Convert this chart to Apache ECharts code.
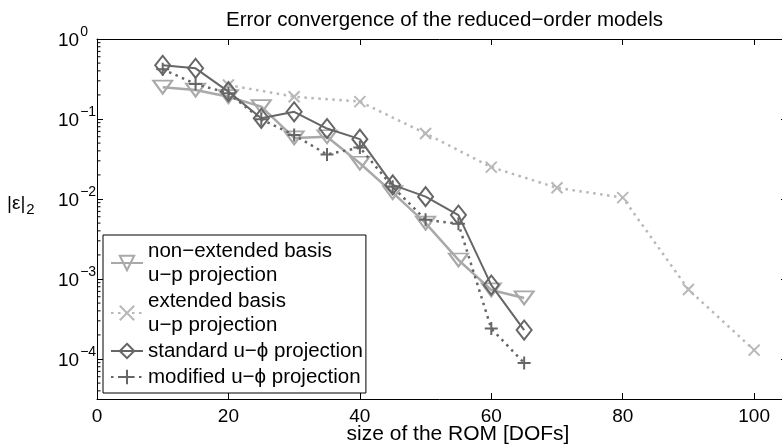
<!DOCTYPE html>
<html>
<head>
<meta charset="utf-8">
<script src="https://cdn.jsdelivr.net/npm/echarts@6/dist/echarts.min.js"></script>
<style>
  html, body { margin: 0; padding: 0; background: #fff; }
  #chart { width: 782px; height: 448px; }
</style>
</head>
<body>
<div id="chart"></div>
<script>
// ROM sizes (DOFs) and relative L2 errors of each reduced-order model
const romSizes = [10, 15, 20, 25, 30, 35, 40, 45, 50, 55, 60, 65];
const nonExtendedUp = [0.25, 0.23, 0.19, 0.143, 0.058, 0.06, 0.028, 0.012, 0.005, 0.00173, 0.00073, 0.00058];
const standardUPhi = [0.47, 0.43, 0.22, 0.102, 0.123, 0.076, 0.056, 0.015, 0.0107, 0.0063, 0.00084, 0.00023];
const modifiedUPhi = [0.42, 0.274, 0.21, 0.099, 0.063, 0.036, 0.044, 0.0142, 0.0055, 0.0049, 0.00024, 0.000089];
const extendedSizes = [20, 30, 40, 50, 60, 70, 80, 90, 100];
const extendedUp = [0.266, 0.19, 0.165, 0.066, 0.025, 0.0138, 0.0104, 0.00074, 0.000129];

const seriesNames = [
  'non\u2212extended basis\nu\u2212p projection',
  'extended basis\nu\u2212p projection',
  'standard u\u2212\u03d5 projection',
  'modified u\u2212\u03d5 projection'
];

const xMin = 0, xMax = 105, xStep = 20;
const yMin = Math.pow(10, -4.5), yMax = 1;

const FONT = '"Liberation Sans", Arial, Helvetica, sans-serif';
const LIGHT = '#a9a9a9';
const LIGHTER = '#b8b8b8';
const DARK = '#666666';

// minor log ticks at 2..9 x 10^k inside the axis range
const minorTicks = [];
for (let e = -5; e < 0; e++) {
  for (let m = 2; m <= 9; m++) {
    const v = m * Math.pow(10, e);
    if (v > yMin && v < yMax) minorTicks.push([0, v]);
  }
}

const pair = (xs, ys) => xs.map((x, i) => [x, ys[i]]);

const chart = echarts.init(document.getElementById('chart'), null, { renderer: 'canvas' });

const axisLine = { show: true, onZero: false, lineStyle: { color: '#000', width: 1 } };
const tickIn = { show: true, inside: true, length: 6, lineStyle: { color: '#000', width: 1 } };

chart.setOption({
  animation: false,
  backgroundColor: '#fff',
  textStyle: { fontFamily: FONT },
  title: {
    text: 'Error convergence of the reduced\u2212order models',
    left: 221,
    top: 5,
    textStyle: { fontFamily: FONT, fontWeight: 'normal', fontSize: 20.5, color: '#000' }
  },
  grid: { left: 97, top: 39, width: 690, height: 360, containLabel: false, outerBoundsMode: 'none' },
  xAxis: [
    {
      type: 'value', min: xMin, max: xMax, interval: xStep, position: 'bottom',
      axisLine, axisTick: tickIn, splitLine: { show: false },
      axisLabel: {
        margin: 8, fontSize: 19, color: '#000', fontFamily: FONT,
        formatter: v => (v % xStep === 0 ? String(v) : '')
      },
      name: 'size of the ROM [DOFs]', nameLocation: 'middle', nameGap: 25, nameMoveOverlap: false,
      nameTextStyle: { fontSize: 21, color: '#000', fontFamily: FONT, padding: [0, 0, 0, 32] }
    },
    {
      type: 'value', min: xMin, max: xMax, interval: xStep, position: 'top',
      axisLine, axisTick: tickIn, axisLabel: { show: false }, splitLine: { show: false }
    }
  ],
  yAxis: [
    {
      type: 'log', logBase: 10, min: yMin, max: yMax, position: 'left',
      axisLine, axisTick: tickIn, splitLine: { show: false }, minorTick: { show: false },
      axisLabel: {
        margin: 39, align: 'left', color: '#000', fontFamily: FONT,
        formatter: v => {
          const l = Math.log10(v);
          const e = Math.round(l);
          if (Math.abs(l - e) > 1e-6) return '';
          return '{b|10}{s|' + (e < 0 ? '\u2212' + (-e) : String(e)) + '}';
        },
        rich: {
          b: { fontSize: 19, color: '#000', fontFamily: FONT, padding: [4, 0, 0, 0] },
          s: { fontSize: 14, color: '#000', fontFamily: FONT, padding: [0, 0, 14, 1] }
        }
      }
    },
    {
      type: 'log', logBase: 10, min: yMin, max: yMax, position: 'right',
      axisLine, axisTick: tickIn, axisLabel: { show: false }, splitLine: { show: false }
    }
  ],
  legend: {
    orient: 'vertical', left: 103, top: 235,
    data: seriesNames,
    itemWidth: 32, itemHeight: 18, itemGap: 2,
    padding: [4, 3, 4, 7],
    borderColor: '#000', borderWidth: 1, backgroundColor: '#fff',
    textStyle: { fontSize: 20.5, lineHeight: 24, color: '#000', fontFamily: FONT },
    selectedMode: false
  },
  graphic: [
    {
      type: 'text', left: 7, top: 194, silent: true,
      style: {
        text: '{a||\u03b5|}{b|2}',
        rich: {
          a: { fontSize: 19, fontFamily: FONT, fill: '#000' },
          b: { fontSize: 15, fontFamily: FONT, fill: '#000', padding: [12, 0, 0, 1] }
        }
      }
    }
  ],
  series: [
    {
      name: seriesNames[0], type: 'line', data: pair(romSizes, nonExtendedUp),
      symbol: 'triangle', symbolRotate: 180, symbolSize: [19, 13],
      lineStyle: { color: LIGHT, width: 2.5 },
      itemStyle: { color: 'none', borderColor: LIGHT, borderWidth: 2 },
      z: 3, silent: true
    },
    {
      name: seriesNames[1], type: 'line', data: pair(extendedSizes, extendedUp),
      symbol: 'path://M0,0L10,10M10,0L0,10', symbolSize: 11,
      lineStyle: { color: LIGHTER, width: 2.5, type: [2.5, 4.5] },
      itemStyle: { color: 'none', borderColor: LIGHTER, borderWidth: 2 },
      z: 3, silent: true
    },
    {
      name: seriesNames[2], type: 'line', data: pair(romSizes, standardUPhi),
      symbol: 'diamond', symbolSize: [15, 19],
      lineStyle: { color: DARK, width: 2 },
      itemStyle: { color: 'none', borderColor: DARK, borderWidth: 2 },
      z: 4, silent: true
    },
    {
      name: seriesNames[3], type: 'line', data: pair(romSizes, modifiedUPhi),
      symbol: 'path://M5,0L5,10M0,5L10,5', symbolSize: 13,
      lineStyle: { color: DARK, width: 2.5, type: [2.5, 4.5] },
      itemStyle: { color: 'none', borderColor: DARK, borderWidth: 2 },
      z: 4, silent: true
    },
    {
      // minor log ticks on the left and right frame edges
      type: 'custom', data: minorTicks, clip: false, silent: true, z: 2,
      renderItem: (params, api) => {
        const p = api.coord([api.value(0), api.value(1)]);
        const cs = params.coordSys;
        const st = { stroke: '#000', lineWidth: 1 };
        return {
          type: 'group',
          children: [
            { type: 'line', shape: { x1: cs.x, y1: p[1], x2: cs.x + 3.5, y2: p[1] }, style: st },
            { type: 'line', shape: { x1: cs.x + cs.width, y1: p[1], x2: cs.x + cs.width - 3.5, y2: p[1] }, style: st }
          ]
        };
      }
    }
  ]
});
</script>
</body>
</html>
